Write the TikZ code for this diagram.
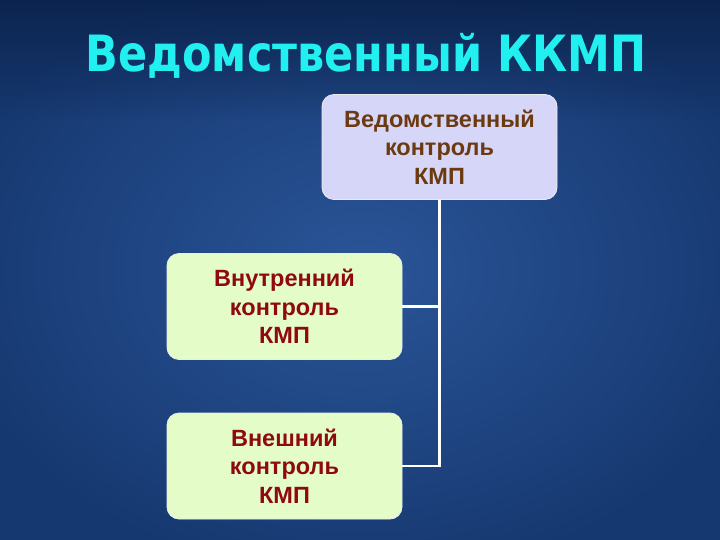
\documentclass[tikz,border=0pt]{standalone}
\usepackage{fontspec}
\usetikzlibrary{fadings}
\setmainfont{Liberation Sans}
\newfontfamily\titlefont{DejaVu Sans}
\definecolor{bgdark}{HTML}{163870}
\definecolor{bgmid}{HTML}{2A5598}
\definecolor{bgtop}{HTML}{0C2550}
\definecolor{titlecyan}{HTML}{22F0F0}
\definecolor{lav}{HTML}{D6D6F8}
\definecolor{lgreen}{HTML}{E4FCC8}
\definecolor{brownt}{HTML}{6B3A10}
\definecolor{redt}{HTML}{8E0A10}
\tikzfading[name=fadedown, top color=transparent!0, bottom color=transparent!100]
\tikzset{
  boxbase/.style={draw=white!85!gray, line width=0.8pt, rounded corners=12pt, minimum width=235pt, align=center, font=\bfseries\fontsize{23.5}{28.5}\selectfont, inner sep=0pt},
  topbox/.style={boxbase, fill=lav, text=brownt, minimum height=105pt},
  sidebox/.style={boxbase, fill=lgreen, text=redt, minimum height=106pt},
  conn/.style={draw=white, line width=2.4pt}
}
\begin{document}
\begin{tikzpicture}[x=1pt,y=-1pt]
\useasboundingbox (0,0) rectangle (720,540);
\shade[inner color=bgmid, outer color=bgdark] (-60,-40) rectangle (780,580);
\fill[bgtop, path fading=fadedown] (0,0) rectangle (720,120);
\node[font=\titlefont\bfseries\fontsize{50}{52}\selectfont, text=titlecyan, anchor=base, inner sep=0pt, xscale=0.86] (title) at (366,72) {Ведомственный ККМП};
\node[topbox] (top) at (439.5,147) {Ведомственный\\контроль\\КМП};
\node[sidebox] (in) at (284.5,306.5) {Внутренний\\контроль\\КМП};
\node[sidebox] (out) at (284.5,466) {Внешний\\контроль\\КМП};
\draw[conn] (top.south) |- (out.east);
\draw[conn] (in.east) -- (in.east -| top.south);
\end{tikzpicture}
\end{document}
